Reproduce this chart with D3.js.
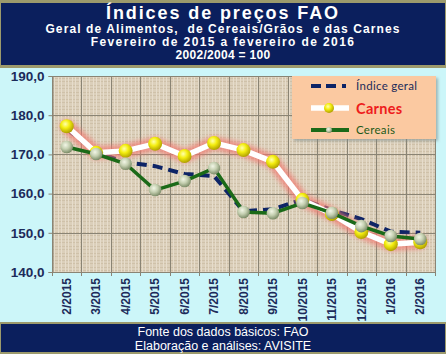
<!DOCTYPE html>
<html>
<head>
<meta charset="utf-8">
<script src="https://cdn.jsdelivr.net/npm/d3@7"></script>
<style>
  html, body { margin: 0; padding: 0; background: #ccf6f9; }
  svg { display: block; }
</style>
</head>
<body>
<div id="chart"></div>
<script>
'use strict';

// data
var months = ['2/2015', '3/2015', '4/2015', '5/2015', '6/2015', '7/2015', '8/2015',
              '9/2015', '10/2015', '11/2015', '12/2015', '1/2016', '2/2016'];
var indiceGeral = [176.5, 170.5, 168.0, 167.0, 165.0, 164.5, 155.5, 156.0, 158.5, 155.8, 153.5, 150.3, 150.0];
var carnes      = [177.2, 170.4, 170.9, 172.7, 169.6, 172.9, 171.1, 168.1, 158.4, 154.8, 150.2, 147.1, 147.6];
var cereais     = [171.9, 170.1, 167.6, 160.9, 163.2, 166.5, 155.3, 155.0, 157.6, 155.1, 151.7, 149.2, 148.4];
var yTicks = [140, 150, 160, 170, 180, 190];

var titleLines = ['Índices de preços FAO',
                  'Geral de Alimentos,  de Cereais/Grãos  e das Carnes',
                  'Fevereiro de 2015 a fevereiro de 2016',
                  '2002/2004 = 100'];
var footerLines = ['Fonte dos dados básicos: FAO', 'Elaboração e análises: AVISITE'];

var W = 446, H = 354;
var plot = {left: 52, right: 435, top: 76, bottom: 272};
var navy = '#0b1f5d';

var svg = d3.select('#chart').append('svg')
    .attr('width', W).attr('height', H);

var defs = svg.append('defs');

// canvas-like texture for the plot background
var pat = defs.append('pattern').attr('id', 'linen')
    .attr('width', 7).attr('height', 7).attr('patternUnits', 'userSpaceOnUse');
pat.append('rect').attr('width', 7).attr('height', 7).attr('fill', '#dbcfba');
pat.append('path').attr('d', 'M0,1.5H7M0,4.5H7').attr('stroke', '#cfc1a9').attr('stroke-width', 1);
pat.append('path').attr('d', 'M2.5,0V7M5.5,0V7').attr('stroke', '#e6dccb').attr('stroke-width', 1);

var gy = defs.append('radialGradient').attr('id', 'ballYellow')
    .attr('cx', '40%').attr('cy', '35%').attr('r', '65%');
gy.append('stop').attr('offset', '0%').attr('stop-color', '#ffffb0');
gy.append('stop').attr('offset', '45%').attr('stop-color', '#f4ee10');
gy.append('stop').attr('offset', '100%').attr('stop-color', '#b0a000');

var gg = defs.append('radialGradient').attr('id', 'ballGreen')
    .attr('cx', '40%').attr('cy', '35%').attr('r', '65%');
gg.append('stop').attr('offset', '0%').attr('stop-color', '#f2f6e6');
gg.append('stop').attr('offset', '50%').attr('stop-color', '#c4cfb0');
gg.append('stop').attr('offset', '100%').attr('stop-color', '#7c8c68');

defs.append('filter').attr('id', 'glow').attr('x', '-10%').attr('y', '-20%')
    .attr('width', '120%').attr('height', '140%')
  .append('feGaussianBlur').attr('stdDeviation', 2.5);

defs.append('filter').attr('id', 'shadow')
  .append('feDropShadow').attr('dx', 2).attr('dy', 2).attr('stdDeviation', 1.5)
    .attr('flood-color', '#7a8a8a').attr('flood-opacity', 0.6);

// header and footer bands
svg.append('rect').attr('x', 0).attr('y', 0).attr('width', W).attr('height', 68).attr('fill', '#9c9a6c');
svg.append('rect').attr('x', 1).attr('y', 3).attr('width', W - 2).attr('height', 62).attr('fill', navy);
svg.append('rect').attr('x', 0).attr('y', 322).attr('width', W).attr('height', 32).attr('fill', '#9c9a6c');
svg.append('rect').attr('x', 1).attr('y', 324).attr('width', W - 2).attr('height', 28).attr('fill', navy);

var titleStyle = [
    {y: 19, size: 18, ls: 1.9},
    {y: 33, size: 12, ls: 1.1},
    {y: 46, size: 12, ls: 1.4},
    {y: 59, size: 12, ls: 0.3}
];
svg.append('g').selectAll('text').data(titleLines).join('text')
    .attr('x', W / 2)
    .attr('y', function(d, i) { return titleStyle[i].y; })
    .attr('text-anchor', 'middle')
    .attr('fill', '#ffffff')
    .attr('font-family', 'Liberation Sans, Arial, sans-serif')
    .attr('font-weight', 'bold')
    .attr('font-size', function(d, i) { return titleStyle[i].size; })
    .attr('letter-spacing', function(d, i) { return titleStyle[i].ls; })
    .attr('xml:space', 'preserve')
    .text(function(d) { return d; });

svg.append('g').selectAll('text').data(footerLines).join('text')
    .attr('x', W / 2)
    .attr('y', function(d, i) { return 336 + i * 13.5; })
    .attr('text-anchor', 'middle')
    .attr('fill', '#ffffff')
    .attr('font-family', 'Liberation Sans, Arial, sans-serif')
    .attr('font-size', 12.5)
    .text(function(d) { return d; });

// scales
var x = d3.scaleBand().domain(months).range([plot.left, plot.right]).padding(0);
var y = d3.scaleLinear().domain([140, 190]).range([plot.bottom, plot.top]);
var cx = function(d, i) { return x(months[i]) + x.bandwidth() / 2; };

// plot background + grid
svg.append('rect')
    .attr('x', plot.left).attr('y', plot.top)
    .attr('width', plot.right - plot.left).attr('height', plot.bottom - plot.top)
    .attr('fill', 'url(#linen)');

var grid = svg.append('g').attr('stroke', '#8a8474').attr('stroke-width', 1);
grid.selectAll('line.h').data(yTicks).join('line').attr('class', 'h')
    .attr('x1', plot.left).attr('x2', plot.right)
    .attr('y1', function(d) { return Math.round(y(d)) + 0.5; })
    .attr('y2', function(d) { return Math.round(y(d)) + 0.5; });
grid.selectAll('line.v').data(months.concat(['end'])).join('line').attr('class', 'v')
    .attr('x1', function(d, i) { return Math.round(plot.left + i * x.bandwidth()) + 0.5; })
    .attr('x2', function(d, i) { return Math.round(plot.left + i * x.bandwidth()) + 0.5; })
    .attr('y1', plot.top).attr('y2', plot.bottom + 4);

// axes
var yAxis = svg.append('g')
    .attr('transform', 'translate(' + (plot.left + 0.5) + ',0)')
    .call(d3.axisLeft(y).tickValues(yTicks).tickSize(4).tickPadding(4)
        .tickFormat(function(d) { return d.toFixed(1).replace('.', ','); }));
yAxis.select('.domain').attr('stroke', '#8a8474');
yAxis.selectAll('.tick line').attr('stroke', '#8a8474');
yAxis.selectAll('text')
    .attr('fill', '#1c2b5a')
    .attr('font-family', 'Liberation Sans, Arial, sans-serif')
    .attr('font-weight', 'bold')
    .attr('font-size', 13.5);

var xAxis = svg.append('g')
    .attr('transform', 'translate(0,' + plot.bottom + ')')
    .call(d3.axisBottom(x).tickSize(0).tickPadding(0));
xAxis.select('.domain').remove();
xAxis.selectAll('text')
    .attr('transform', 'rotate(-90)')
    .attr('x', -6).attr('y', 0).attr('dy', '0.35em')
    .attr('text-anchor', 'end')
    .attr('fill', '#1c2b5a')
    .attr('font-family', 'Liberation Sans Narrow, Liberation Sans, Arial, sans-serif')
    .attr('font-weight', 'bold')
    .attr('font-size', 12);

// series
var line = d3.line().x(cx).y(function(d) { return y(d); });

// Índice geral (dashed, drawn first)
svg.append('path').datum(indiceGeral)
    .attr('d', line).attr('fill', 'none')
    .attr('stroke', '#0d2466').attr('stroke-width', 4)
    .attr('stroke-dasharray', '10,6');

// Carnes: soft red glow, white line, yellow balls
var gCarnes = svg.append('g');
gCarnes.append('path').datum(carnes)
    .attr('d', line).attr('fill', 'none')
    .attr('stroke', '#f07a70').attr('stroke-opacity', 0.75)
    .attr('stroke-width', 13).attr('stroke-linejoin', 'round').attr('stroke-linecap', 'round')
    .attr('filter', 'url(#glow)');
gCarnes.append('path').datum(carnes)
    .attr('d', line).attr('fill', 'none')
    .attr('stroke', '#ffffff').attr('stroke-width', 5.5).attr('stroke-linejoin', 'round');
gCarnes.selectAll('circle').data(carnes).join('circle')
    .attr('cx', cx).attr('cy', function(d) { return y(d); })
    .attr('r', 7).attr('fill', 'url(#ballYellow)');

// Cereais: green line, grey-green balls
var gCereais = svg.append('g');
gCereais.append('path').datum(cereais)
    .attr('d', line).attr('fill', 'none')
    .attr('stroke', '#1b6a18').attr('stroke-width', 3.5);
gCereais.selectAll('circle').data(cereais).join('circle')
    .attr('cx', cx).attr('cy', function(d) { return y(d); })
    .attr('r', 6.3).attr('fill', 'url(#ballGreen)');

// legend
var lg = svg.append('g').attr('transform', 'translate(292,76)');
lg.append('rect').attr('width', 144).attr('height', 63)
    .attr('fill', '#fbc9a1').attr('filter', 'url(#shadow)');
lg.append('line').attr('x1', 19).attr('x2', 57).attr('y1', 10).attr('y2', 10)
    .attr('stroke', '#0d2466').attr('stroke-width', 4).attr('stroke-dasharray', '10,5,10,6,4');
lg.append('line').attr('x1', 19).attr('x2', 57).attr('y1', 32).attr('y2', 32)
    .attr('stroke', '#ffffff').attr('stroke-width', 5.5);
lg.append('circle').attr('cx', 37).attr('cy', 32).attr('r', 5).attr('fill', 'url(#ballYellow)');
lg.append('line').attr('x1', 19).attr('x2', 57).attr('y1', 54).attr('y2', 54)
    .attr('stroke', '#1b6a18').attr('stroke-width', 4);
lg.append('circle').attr('cx', 37).attr('cy', 54).attr('r', 3).attr('fill', 'url(#ballGreen)');

var legendText = [
    {label: 'Índice geral', y: 14, color: '#1c2b5a', size: 11.5, weight: 'normal'},
    {label: 'Carnes', y: 37.5, color: '#ee1c1c', size: 14.5, weight: 'bold'},
    {label: 'Cereais', y: 58, color: '#1b5a18', size: 11.5, weight: 'normal'}
];
lg.selectAll('text').data(legendText).join('text')
    .attr('x', 64).attr('y', function(d) { return d.y; })
    .attr('fill', function(d) { return d.color; })
    .attr('font-family', 'Lato, Open Sans, sans-serif')
    .attr('font-size', function(d) { return d.size; })
    .attr('font-weight', function(d) { return d.weight; })
    .attr('letter-spacing', 0.3)
    .text(function(d) { return d.label; });
</script>
</body>
</html>
